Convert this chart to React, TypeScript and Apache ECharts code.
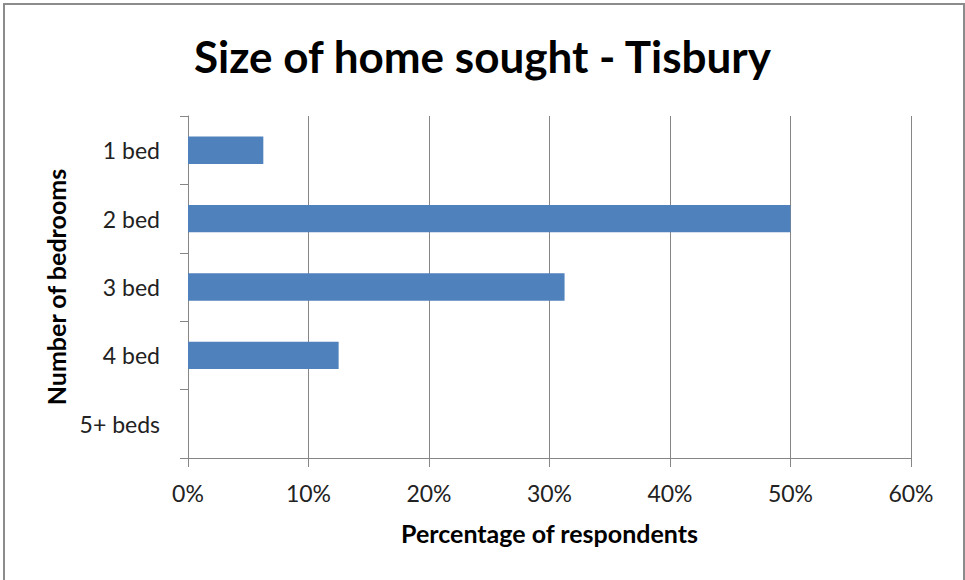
import React, { useEffect, useRef } from "react";
import * as echarts from "echarts";

const categories = ["1 bed", "2 bed", "3 bed", "4 bed", "5+ beds"];
const values = [6.25, 50, 31.25, 12.5, 0];
const xTicks = { min: 0, max: 60, interval: 10 };

export default function App() {
  const ref = useRef<HTMLDivElement>(null);
  useEffect(() => {
    if (!ref.current) return;
    const chart = echarts.init(ref.current, null, { renderer: "svg" });
    const font = "Lato, 'Open Sans', sans-serif";
    chart.setOption({
      animation: false,
      backgroundColor: "#ffffff",
      title: {
        text: "Size of home sought - Tisbury",
        left: "center",
        top: 29,
        textStyle: { fontFamily: font, fontSize: 44, fontWeight: "bold", color: "#000" },
      },
      graphic: [
        {
          type: "rect",
          shape: { x: 4, y: 4, width: 960, height: 600 },
          style: { fill: "none", stroke: "#8c8c8c", lineWidth: 2 },
          silent: true,
        },
      ],
      grid: { left: 188, right: 54, top: 116, bottom: 122, containLabel: false },
      xAxis: {
        type: "value",
        min: xTicks.min,
        max: xTicks.max,
        interval: xTicks.interval,
        name: "Percentage of respondents",
        nameLocation: "middle",
        nameGap: 62,
        nameTextStyle: { fontFamily: font, fontSize: 25, fontWeight: "bold", color: "#000" },
        axisLine: { show: true, lineStyle: { color: "#868686", width: 1 } },
        axisTick: { show: true, length: 9, lineStyle: { color: "#868686" } },
        axisLabel: {
          formatter: "{value}%",
          fontFamily: font,
          fontSize: 23,
          color: "#222",
          margin: 23,
        },
        splitLine: { show: true, lineStyle: { color: "#868686", width: 1 } },
      },
      yAxis: {
        type: "category",
        inverse: true,
        data: categories,
        name: "Number of bedrooms",
        nameLocation: "middle",
        nameGap: 118,
        nameRotate: 90,
        nameTextStyle: { fontFamily: font, fontSize: 25, fontWeight: "bold", color: "#000" },
        axisLine: { show: true, lineStyle: { color: "#868686", width: 1 } },
        axisTick: { show: true, length: 8, interval: 0, lineStyle: { color: "#868686" } },
        axisLabel: { fontFamily: font, fontSize: 23, color: "#222", margin: 28 },
        splitLine: { show: false },
      },
      series: [
        {
          type: "bar",
          data: values,
          barCategoryGap: "60%",
          itemStyle: { color: "#4f81bd" },
        },
      ],
    });
    return () => chart.dispose();
  }, []);
  return (
    <div
      ref={ref}
      style={{ position: "absolute", left: 0, top: 0, width: 965, height: 580 }}
    />
  );
}
